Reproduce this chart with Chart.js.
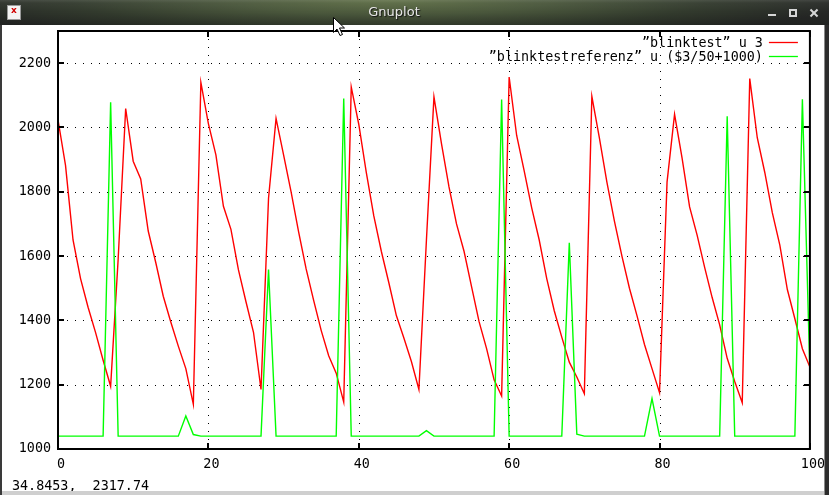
<!DOCTYPE html>
<html><head><meta charset="utf-8">
<script src="https://cdn.jsdelivr.net/npm/chart.js@4.4.1/dist/chart.umd.min.js"></script>
<style>
html,body{margin:0;padding:0;width:829px;height:495px;overflow:hidden;background:#fff;}
#win{position:absolute;left:0;top:0;width:829px;height:495px;background:#fff;}
#title{position:absolute;left:0;top:0;width:829px;height:25px;
 background:linear-gradient(to bottom,rgba(255,255,255,0.12) 0px,rgba(255,255,255,0.04) 3px,rgba(0,0,0,0) 12px,rgba(0,0,0,0.15) 25px),
 radial-gradient(ellipse 55% 170% at 47% 0%,#5e6e45 0%,#4a573c 35%,#323a2d 70%,#262826 100%);z-index:3;}
#ttext{position:absolute;left:344px;width:100px;top:4px;text-align:center;font:13px 'DejaVu Sans',sans-serif;color:#e6e6e6;text-shadow:1px 1px 1px #111;}
#icon{position:absolute;left:7px;top:5px;width:12px;height:13px;background:#f4f4f4;border:1px solid #9a9a9a;}
#icon span{position:absolute;left:3px;top:-1px;font:bold 9px 'DejaVu Sans',sans-serif;color:#d00000;}
#bmin{position:absolute;left:768px;top:14px;width:8px;height:2px;background:#d6d6d6;}
#bmax{position:absolute;left:789px;top:9px;width:4px;height:4px;border:2px solid #d6d6d6;}
.bx{position:absolute;left:809px;top:12px;width:10px;height:2px;background:#d6d6d6;}
#lb{position:absolute;left:0;top:25px;width:2px;height:470px;background:#3a3a3a;z-index:3;}
#rb{position:absolute;left:824px;top:25px;width:5px;height:470px;background:#2c2c2c;border-left:1px solid #8a8a8a;box-sizing:border-box;z-index:3;}
#bb{position:absolute;left:2px;top:491px;width:822px;height:4px;background:#cfcfcf;z-index:3;}
#c{position:absolute;left:0;top:0;z-index:2;}
#cur{position:absolute;left:333px;top:17px;z-index:5;}
</style></head>
<body>
<div id="win"></div>
<div id="title">
  <div id="icon"><span>x</span></div>
  <div id="ttext">Gnuplot</div>
  <div id="bmin"></div>
  <div id="bmax"></div>
  <div class="bx" style="transform:rotate(45deg)"></div>
  <div class="bx" style="transform:rotate(-45deg)"></div>
</div>
<div id="lb"></div><div id="rb"></div><div id="bb"></div>
<canvas id="c" width="829" height="495"></canvas>
<svg id="cur" width="14" height="20" viewBox="0 0 14 20"><path d="M0.5 0.5 L0.5 15.5 L4 12 L7 18.5 L9.5 17.5 L6.5 11 L11.5 11 Z" fill="#fff" stroke="#000" stroke-width="1"/></svg>
<script>
// ---- data ----
const rowIndex = [0,1,2,3,4,5,6,7,8,9,10,11,12,13,14,15,16,17,18,19,20,21,22,23,24,25,26,27,28,29,30,31,32,33,34,35,36,37,38,39,40,41,42,43,44,45,46,47,48,49,50,51,52,53,54,55,56,57,58,59,60,61,62,63,64,65,66,67,68,69,70,71,72,73,74,75,76,77,78,79,80,81,82,83,84,85,86,87,88,89,90,91,92,93,94,95,96,97,98,99,100];
const blinktest = [
 2024,1882,1650,1530,1441,1362,1276,1195,1590,2059,
 1895,1840,1678,1580,1475,1395,1320,1250,1139,2140,
 2012,1915,1755,1683,1557,1458,1363,1185,1780,2028,
 1915,1800,1675,1560,1462,1369,1290,1236,1146,2126,
 2010,1860,1725,1615,1517,1415,1345,1272,1185,1650,
 2095,1950,1815,1700,1615,1505,1396,1312,1215,1165,
 2157,1975,1865,1750,1650,1530,1430,1348,1270,1224,
 1172,2097,1968,1830,1709,1600,1500,1415,1325,1250,
 1175,1830,2041,1905,1753,1665,1565,1471,1386,1282,
 1210,1144,2152,1968,1860,1735,1634,1496,1405,1312,
 1255];
const blinktestreferenz = [
 1040,1040,1040,1040,1040,1040,1040,2078,1040,1040,
 1040,1040,1040,1040,1040,1040,1040,1103,1045,1040,
 1040,1040,1040,1040,1040,1040,1040,1040,1558,1040,
 1040,1040,1040,1040,1040,1040,1040,1040,2090,1040,
 1040,1040,1040,1040,1040,1040,1040,1040,1040,1057,
 1040,1040,1040,1040,1040,1040,1040,1040,1040,2087,
 1040,1040,1040,1040,1040,1040,1040,1040,1641,1046,
 1040,1040,1040,1040,1040,1040,1040,1040,1040,1157,
 1040,1040,1040,1040,1040,1040,1040,1040,1040,2035,
 1040,1040,1040,1040,1040,1040,1040,1040,1040,2088,
 1236];
const xTicks = [0,20,40,60,80,100];
const yTicks = [1000,1200,1400,1600,1800,2000,2200];
const seriesLabels = ['\u201dblinktest\u201d u 3','\u201dblinktestreferenz\u201d u ($3/50+1000)'];
const seriesColors = ['#ff0000','#00ff00'];
const statusText = '34.8453,  2317.74';

const FONT = "'DejaVu Sans Mono', 'Liberation Mono', monospace";
const FS = 13.4;

const frame = {
  id:'frame',
  beforeDatasetsDraw(chart){
    const {ctx, chartArea:a, scales:{x,y}} = chart;
    ctx.save();
    ctx.strokeStyle='#000'; ctx.lineWidth=1; ctx.setLineDash([1,7]);
    xTicks.forEach(v=>{
      const px = Math.round(x.getPixelForValue(v));
      if (px <= a.left+2 || px >= a.right-2) return;
      ctx.beginPath(); ctx.moveTo(px+0.5, a.bottom-1); ctx.lineTo(px+0.5, a.top+1); ctx.stroke();
    });
    yTicks.forEach(v=>{
      const py = Math.round(y.getPixelForValue(v));
      if (py <= a.top+2 || py >= a.bottom-2) return;
      ctx.beginPath(); ctx.moveTo(a.left+1, py+0.5); ctx.lineTo(a.right-1, py+0.5); ctx.stroke();
    });
    ctx.restore();
  },
  afterDatasetsDraw(chart){
    const {ctx, chartArea:a, scales:{x,y}} = chart;
    ctx.save();
    ctx.setLineDash([]);
    ctx.strokeStyle='#000'; ctx.lineWidth=2;
    ctx.strokeRect(a.left, a.top, a.right-a.left, a.bottom-a.top);
    ctx.fillStyle='#000';
    xTicks.forEach(v=>{
      const px = Math.round(x.getPixelForValue(v));
      ctx.fillRect(px-1, a.bottom-6, 2, 6);
      ctx.fillRect(px-1, a.top, 2, 6);
    });
    yTicks.forEach(v=>{
      const py = Math.round(y.getPixelForValue(v));
      ctx.fillRect(a.left, py-1, 6, 2);
      ctx.fillRect(a.right-6, py-1, 6, 2);
    });
    // legend
    ctx.font = FS+'px '+FONT;
    ctx.textAlign='right'; ctx.textBaseline='alphabetic';
    const tx = a.right - 47;
    seriesLabels.forEach((lab,i)=>{
      const by = 47.3 + i*13.4;
      ctx.fillStyle='#000';
      ctx.fillText(lab, tx, by);
      ctx.strokeStyle=seriesColors[i]; ctx.lineWidth=1.3;
      const ly = Math.round(by-5)+0.5;
      ctx.beginPath(); ctx.moveTo(a.right-41, ly); ctx.lineTo(a.right-12, ly); ctx.stroke();
    });
    // status line
    ctx.textAlign='left'; ctx.fillStyle='#000';
    ctx.fillText(statusText, 12, 490);
    ctx.restore();
  }
};

new Chart(document.getElementById('c').getContext('2d'), {
  type:'line',
  data:{datasets:[
    {label:seriesLabels[0], data:rowIndex.map((r,i)=>({x:r,y:blinktest[i]})), borderColor:seriesColors[0], borderWidth:1.4, pointRadius:0, tension:0, fill:false, order:1},
    {label:seriesLabels[1], data:rowIndex.map((r,i)=>({x:r,y:blinktestreferenz[i]})), borderColor:seriesColors[1], borderWidth:1.4, pointRadius:0, tension:0, fill:false, order:0}
  ]},
  options:{
    responsive:false, animation:false, events:[],
    layout:{padding:{top:31,right:17,left:0,bottom:0}},
    plugins:{legend:{display:false}, tooltip:{enabled:false}},
    scales:{
      x:{type:'linear', min:0, max:100,
         grid:{display:false, drawTicks:false}, border:{display:false},
         afterBuildTicks(s){ s.ticks = xTicks.map(v=>({value:v})); },
         ticks:{color:'#000', font:{family:FONT,size:FS}, padding:7, labelOffset:3, maxRotation:0, autoSkip:false, callback:v=>String(v)},
         afterFit(s){ s.height = 46; }},
      y:{type:'linear', min:1000, max:2300,
         grid:{display:false, drawTicks:false}, border:{display:false},
         afterBuildTicks(s){ s.ticks = yTicks.map(v=>({value:v})); },
         ticks:{color:'#000', font:{family:FONT,size:FS}, padding:7, autoSkip:false, callback:v=>String(v)},
         afterFit(s){ s.width = 58; }}
    }
  },
  plugins:[frame]
});
</script>
</body></html>
